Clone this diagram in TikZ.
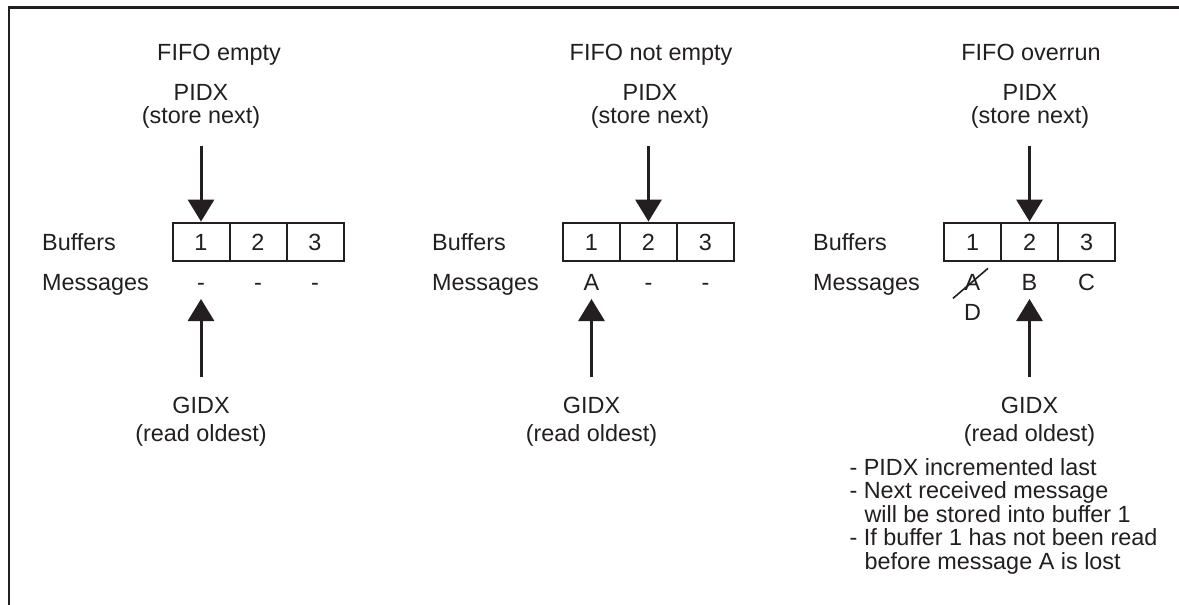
\documentclass[tikz,border=0pt]{standalone}
\usepackage{fontspec}
\setmainfont{Liberation Sans}
\usetikzlibrary{arrows.meta}
\definecolor{ink}{RGB}{35,31,32}
\begin{document}
\begin{tikzpicture}[x=1pt,y=-1pt,
  every node/.style={font=\fontsize{23.4}{28}\selectfont, text=ink, inner sep=0pt},
  lbl/.style={anchor=base},
  lblw/.style={anchor=base west},
  cell/.style={draw=ink, line width=2pt, minimum width=57pt, minimum height=38pt, anchor=center},
  ptr/.style={draw=ink, line width=3pt, -{Triangle[width=26pt,length=22pt]}},
  frame/.style={draw=ink, line width=2.5pt},
  strike/.style={draw=ink, line width=1.6pt},
]
\useasboundingbox (0,0) rectangle (1179,605);
\fill[white] (0,0) rectangle (1179,605);
\draw[frame] (9,605) -- (9,7.5) -- (1179,7.5);

% ---------- Panel 1: FIFO empty ----------
\node[lbl] (t1) at (219,60) {FIFO empty};
\node[lbl] (p1) at (201,100) {PIDX};
\node[lbl] (s1) at (201,123) {(store next)};
\node[lblw] (b1) at (42,250) {Buffers};
\node[lblw] (ml1) at (42,290) {Messages};
\node[cell] (c11) at (201,241.6) {};
\node[cell] (c12) at (258,241.6) {};
\node[cell] (c13) at (315,241.6) {};
\node[lbl] (n11) at (201,250) {1};
\node[lbl] (n12) at (258,250) {2};
\node[lbl] (n13) at (315,250) {3};
\node[lbl] (m11) at (201,290) {-};
\node[lbl] (m12) at (258,290) {-};
\node[lbl] (m13) at (315,290) {-};
\node[lbl] (g1) at (201,413) {GIDX};
\node[lbl] (r1) at (201,441) {(read oldest)};
\coordinate (pa1) at (201,146);
\coordinate (ga1) at (201,377);
\coordinate (gt1) at (201,299);
\draw[ptr] (pa1) -- (c11.north);
\draw[ptr] (ga1) -- (gt1);

% ---------- Panel 2: FIFO not empty ----------
\node[lbl] (t2) at (651,60) {FIFO not empty};
\node[lbl] (p2) at (650,100) {PIDX};
\node[lbl] (s2) at (650,123) {(store next)};
\node[lblw] (b2) at (432,250) {Buffers};
\node[lblw] (ml2) at (432,290) {Messages};
\node[cell] (c21) at (591.5,241.6) {};
\node[cell] (c22) at (648.5,241.6) {};
\node[cell] (c23) at (705.5,241.6) {};
\node[lbl] (n21) at (591.5,250) {1};
\node[lbl] (n22) at (648.5,250) {2};
\node[lbl] (n23) at (705.5,250) {3};
\node[lbl] (m21) at (591.5,290) {A};
\node[lbl] (m22) at (648.5,290) {-};
\node[lbl] (m23) at (705.5,290) {-};
\node[lbl] (g2) at (591.5,413) {GIDX};
\node[lbl] (r2) at (591.5,441) {(read oldest)};
\coordinate (pa2) at (648.5,146);
\coordinate (ga2) at (591.5,377);
\coordinate (gt2) at (591.5,299);
\draw[ptr] (pa2) -- (c22.north);
\draw[ptr] (ga2) -- (gt2);

% ---------- Panel 3: FIFO overrun ----------
\node[lbl] (t3) at (1031,60) {FIFO overrun};
\node[lbl] (p3) at (1030,100) {PIDX};
\node[lbl] (s3) at (1030,123) {(store next)};
\node[lblw] (b3) at (813,250) {Buffers};
\node[lblw] (ml3) at (813,290) {Messages};
\node[cell] (c31) at (972.5,241.6) {};
\node[cell] (c32) at (1029.5,241.6) {};
\node[cell] (c33) at (1086.5,241.6) {};
\node[lbl] (n31) at (972.5,250) {1};
\node[lbl] (n32) at (1029.5,250) {2};
\node[lbl] (n33) at (1086.5,250) {3};
\node[lbl] (m31) at (972.5,290) {A};
\node[lbl] (m32) at (1029.5,290) {B};
\node[lbl] (m33) at (1086.5,290) {C};
\node[lbl] (d31) at (972.5,320) {D};
\draw[strike] ([shift={(-19.5,16.4)}]m31.center) -- ([shift={(15.5,-13.6)}]m31.center);
\node[lbl] (g3) at (1029.5,413) {GIDX};
\node[lbl] (r3) at (1029.5,441) {(read oldest)};
\coordinate (pa3) at (1029.5,146);
\coordinate (ga3) at (1029.5,377);
\coordinate (gt3) at (1029.5,299);
\draw[ptr] (pa3) -- (c32.north);
\draw[ptr] (ga3) -- (gt3);

\node[lblw] (x1) at (849.3,475) {- PIDX incremented last};
\node[lblw] (x2) at (849.3,498.6) {- Next received message};
\node[lblw] (x3) at (864.3,522.2) {will be stored into buffer 1};
\node[lblw] (x4) at (849.3,545.8) {- If buffer 1 has not been read};
\node[lblw] (x5) at (864.3,569.4) {before message A is lost};
\end{tikzpicture}
\end{document}
